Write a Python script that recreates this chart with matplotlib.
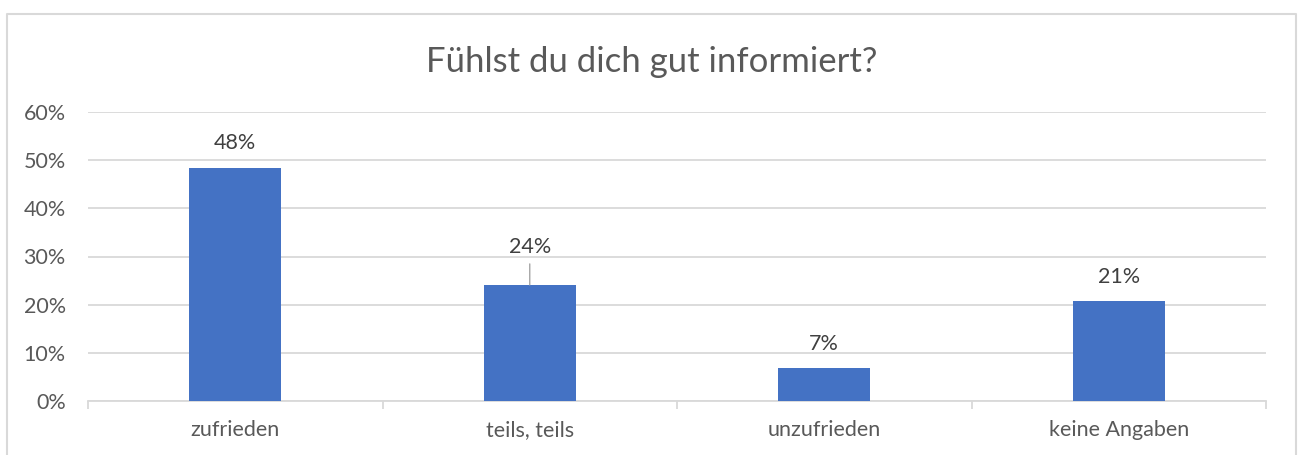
import matplotlib.pyplot as plt
import numpy as np
from matplotlib.lines import Line2D
from matplotlib.ticker import PercentFormatter

plt.rcParams['font.family'] = ['Lato', 'DejaVu Sans']

# Data
categories = ['zufrieden', 'teils, teils', 'unzufrieden', 'keine Angaben']
shares = [48.3, 24.1, 6.9, 20.7]
labels = ['48%', '24%', '7%', '21%']
title = 'Fühlst du dich gut informiert?'

text_grey = '#595959'
label_grey = '#404040'
grid_grey = '#D9D9D9'
bar_blue = '#4472C4'

fig = plt.figure(figsize=(13.04, 4.55), dpi=100)
ax = fig.add_axes([88 / 1304, 54 / 455, 1178 / 1304, 289 / 455])

x = np.arange(len(categories))
ax.bar(x, shares, width=0.313, color=bar_blue, zorder=3)

ax.set_xlim(-0.5, len(categories) - 0.5)
ax.set_ylim(0, 60)
ax.set_yticks(np.arange(0, 61, 10))
ax.yaxis.set_major_formatter(PercentFormatter(decimals=0))
ax.grid(axis='y', color=grid_grey, linewidth=1.3, zorder=0)
ax.tick_params(axis='y', length=0, labelsize=15.5, labelcolor=text_grey, pad=16)

# category labels centred, tick marks at the category boundaries
ax.set_xticks(x)
ax.set_xticklabels(categories)
ax.tick_params(axis='x', which='major', length=0, labelsize=15.5,
               labelcolor=text_grey, pad=14)
ax.set_xticks(np.arange(-0.5, len(categories)), minor=True)
ax.tick_params(axis='x', which='minor', length=6, color=grid_grey, width=1.3)

for side in ['left', 'right', 'top']:
    ax.spines[side].set_visible(False)
ax.spines['bottom'].set_color(grid_grey)
ax.spines['bottom'].set_linewidth(1.3)

# data labels, the second one sits higher with a leader line
offsets = [25, 38, 24, 24]
for xi, v, lab, off in zip(x, shares, labels, offsets):
    ax.annotate(lab, (xi, v), xytext=(0, off), textcoords='offset pixels',
                ha='center', va='center', fontsize=15.5, color=label_grey)
    if off > 30:
        ax.annotate('', (xi, v), xytext=(0, off - 17), textcoords='offset pixels',
                    arrowprops=dict(arrowstyle='-', color='#A6A6A6', lw=1,
                                    shrinkA=0, shrinkB=0))

fig.text(0.5, (455 - 62) / 455, title, ha='center', va='center',
         fontsize=25, color=text_grey)

# chart area border (bottom edge is cut off in the reference)
xl, xr, yt = 7 / 1304, 1296 / 1304, (455 - 13.5) / 455
fig.add_artist(Line2D([xl, xl, xr, xr], [0, yt, yt, 0], transform=fig.transFigure,
                      color=grid_grey, linewidth=1.5))

fig.savefig('out.png', dpi=100)
